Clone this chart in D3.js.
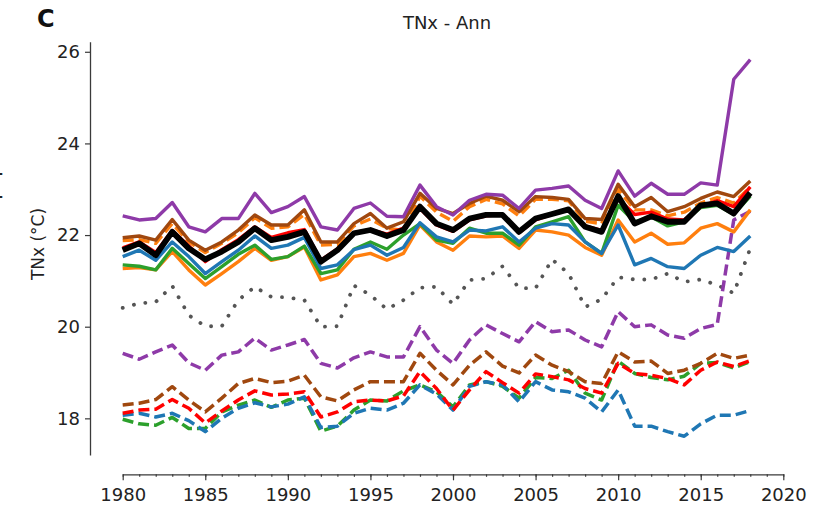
<!DOCTYPE html>
<html>
<head>
<meta charset="utf-8">
<script src="https://cdn.jsdelivr.net/npm/d3@7"></script>
<style>
  html, body { margin: 0; padding: 0; background: #fff; }
  svg { display: block; font-family: "DejaVu Sans", sans-serif; }
</style>
</head>
<body>
<svg id="chart" width="813" height="513"></svg>
<script>
// Annual TNx (warmest night), 1980-2018
const years = [1980, 1981, 1982, 1983, 1984, 1985, 1986, 1987, 1988, 1989,
  1990, 1991, 1992, 1993, 1994, 1995, 1996, 1997, 1998, 1999,
  2000, 2001, 2002, 2003, 2004, 2005, 2006, 2007, 2008, 2009,
  2010, 2011, 2012, 2013, 2014, 2015, 2016, 2017, 2018];

const majorTicks = [1980, 1985, 1990, 1995, 2000, 2005, 2010, 2015, 2020];
const minorTicks = [1980, 1981, 1982, 1983, 1984, 1985, 1986, 1987, 1988, 1989,
  1990, 1991, 1992, 1993, 1994, 1995, 1996, 1997, 1998, 1999,
  2000, 2001, 2002, 2003, 2004, 2005, 2006, 2007, 2008, 2009,
  2010, 2011, 2012, 2013, 2014, 2015, 2016, 2017, 2018, 2019, 2020];
const yTicks = [18, 20, 22, 24, 26];

// solid series
const purpleSolid = [22.42, 22.33, 22.36, 22.71, 22.18, 22.07, 22.36, 22.36, 22.91, 22.49, 22.62, 22.84, 22.18, 22.11, 22.58,
  22.70, 22.41, 22.40, 23.09, 22.62, 22.44, 22.76, 22.89, 22.87, 22.58, 22.98, 23.02, 23.07, 22.76, 22.58,
  23.40, 22.85, 23.13, 22.89, 22.89, 23.14, 23.09, 25.40, 25.83];
const brownSolid = [21.94, 21.98, 21.89, 22.34, 21.89, 21.67, 21.85, 22.11, 22.44, 22.22, 22.22, 22.55, 21.85, 21.85, 22.25,
  22.47, 22.15, 22.29, 22.91, 22.58, 22.47, 22.69, 22.85, 22.76, 22.51, 22.84, 22.82, 22.78, 22.36, 22.34,
  23.11, 22.62, 22.82, 22.51, 22.62, 22.80, 22.94, 22.84, 23.18];
const orangeDashed = [21.88, 21.90, 21.82, 22.25, 21.85, 21.62, 21.82, 22.05, 22.38, 22.15, 22.18, 22.45, 21.78, 21.80, 22.20,
  22.35, 22.15, 22.10, 22.85, 22.50, 22.30, 22.62, 22.78, 22.68, 22.42, 22.78, 22.78, 22.75, 22.30, 22.25,
  23.00, 22.55, 22.55, 22.42, 22.50, 22.70, 22.82, 22.70, 23.05];
const redSolid = [21.72, 21.85, 21.62, 22.10, 21.76, 21.42, 21.68, 21.90, 22.18, 21.95, 22.05, 22.12, 21.45, 21.70, 22.05,
  22.12, 22.02, 22.15, 22.58, 22.22, 22.08, 22.33, 22.42, 22.45, 22.05, 22.33, 22.45, 22.55, 22.20, 22.10,
  22.80, 22.45, 22.50, 22.35, 22.33, 22.62, 22.75, 22.62, 23.05];
const blackSolid = [21.67, 21.82, 21.56, 22.07, 21.71, 21.47, 21.64, 21.85, 22.15, 21.89, 21.96, 22.07, 21.42, 21.67, 22.04,
  22.11, 21.98, 22.11, 22.62, 22.25, 22.11, 22.36, 22.44, 22.44, 22.07, 22.36, 22.46, 22.56, 22.18, 22.07,
  22.85, 22.25, 22.41, 22.29, 22.29, 22.65, 22.69, 22.47, 22.92];
const blueSolid = [21.53, 21.67, 21.45, 21.85, 21.53, 21.16, 21.42, 21.67, 21.98, 21.71, 21.78, 21.95, 21.27, 21.35, 21.68,
  21.78, 21.56, 21.73, 22.27, 21.96, 21.85, 22.11, 22.09, 22.18, 21.85, 22.15, 22.25, 22.22, 21.85, 21.60,
  22.22, 21.35, 21.49, 21.31, 21.27, 21.56, 21.73, 21.64, 21.98];
const greenSolid = [21.35, 21.32, 21.24, 21.71, 21.38, 21.05, 21.31, 21.58, 21.78, 21.47, 21.53, 21.76, 21.16, 21.24, 21.69,
  21.85, 21.69, 22.00, 22.25, 21.89, 21.82, 22.15, 22.04, 22.04, 21.78, 22.18, 22.29, 22.40, 21.85, 21.60,
  22.65, 22.29, 22.40, 22.20, 22.29, 22.60, 22.65, 22.45, 22.85];
const orangeSolid = [21.27, 21.29, 21.24, 21.64, 21.24, 20.91, 21.16, 21.42, 21.71, 21.45, 21.53, 21.74, 21.02, 21.13, 21.53,
  21.60, 21.45, 21.60, 22.22, 21.85, 21.67, 21.98, 21.96, 21.98, 21.71, 22.11, 22.07, 22.00, 21.73, 21.56,
  22.33, 21.85, 22.04, 21.80, 21.83, 22.15, 22.25, 22.07, 22.55];

// dotted series
const grayDotted = [20.41, 20.51, 20.54, 20.89, 20.25, 20.01, 20.01, 20.58, 20.87, 20.65, 20.64, 20.58, 20.00, 20.01, 20.90,
  20.69, 20.38, 20.58, 20.85, 20.87, 20.49, 21.02, 21.05, 21.32, 20.84, 20.84, 21.47, 21.16, 20.43, 20.60,
  21.08, 21.03, 21.03, 21.16, 20.98, 21.03, 20.91, 20.73, 21.71];

// dashed series
const purpleDashed = [19.42, 19.29, 19.45, 19.60, 19.21, 19.05, 19.38, 19.45, 19.75, 19.49, 19.60, 19.72, 19.20, 19.10, 19.32,
  19.45, 19.34, 19.34, 20.00, 19.49, 19.20, 19.71, 20.04, 19.85, 19.67, 20.11, 19.89, 19.93, 19.71, 19.56,
  20.33, 20.00, 20.04, 19.82, 19.75, 19.96, 20.05, 22.33, 22.52];
const brownDashed = [18.29, 18.33, 18.41, 18.69, 18.40, 18.14, 18.44, 18.76, 18.87, 18.78, 18.81, 18.94, 18.47, 18.38, 18.62,
  18.80, 18.80, 18.80, 19.42, 19.05, 18.73, 19.16, 19.45, 19.14, 18.99, 19.38, 19.16, 19.02, 18.80, 18.76,
  19.45, 19.23, 19.25, 18.98, 19.05, 19.20, 19.42, 19.31, 19.38];
const redDashed = [18.11, 18.18, 18.20, 18.41, 18.22, 17.90, 18.16, 18.40, 18.60, 18.51, 18.53, 18.58, 18.03, 18.14, 18.36,
  18.40, 18.38, 18.49, 19.02, 18.65, 18.18, 18.62, 19.02, 18.78, 18.55, 18.97, 18.91, 18.84, 18.65, 18.55,
  19.20, 18.98, 18.94, 18.87, 18.73, 19.05, 19.23, 19.13, 19.26];
const greenDashed = [17.98, 17.88, 17.85, 18.02, 17.78, 17.78, 18.14, 18.29, 18.40, 18.24, 18.40, 18.44, 17.72, 17.83, 18.18,
  18.40, 18.38, 18.60, 18.73, 18.58, 18.25, 18.73, 18.80, 18.70, 18.44, 18.89, 18.87, 19.05, 18.55, 18.40,
  19.25, 18.98, 18.89, 18.84, 18.92, 19.20, 19.22, 19.10, 19.24];
const blueDashed = [18.07, 18.11, 18.03, 18.11, 17.95, 17.71, 18.00, 18.22, 18.34, 18.25, 18.31, 18.47, 17.80, 17.83, 18.11,
  18.22, 18.18, 18.33, 18.73, 18.53, 18.18, 18.70, 18.80, 18.73, 18.36, 18.80, 18.62, 18.58, 18.44, 18.14,
  18.62, 17.83, 17.83, 17.71, 17.61, 17.88, 18.07, 18.07, 18.17];

const svg = d3.select("#chart");

const x = d3.scaleLinear().domain([1980, 2020]).range([122.7, 783.3]);
const y = d3.scaleLinear().domain([17.2, 26.22]).range([455, 41.7]);

const axisColor = "#3a3a3a";

// x axis: yearly minor ticks, labelled ticks every 5 years
const xMinor = svg.append("g").attr("transform", "translate(0,474.3)")
  .call(d3.axisBottom(x).tickValues(minorTicks).tickSize(2.5).tickFormat(""));
xMinor.select(".domain").remove();
const xMajor = svg.append("g").attr("transform", "translate(0,474.3)")
  .call(d3.axisBottom(x).tickValues(majorTicks).tickSize(6).tickSizeOuter(0)
    .tickPadding(8).tickFormat(d3.format("d")));

// y axis
const yAxis = svg.append("g").attr("transform", "translate(90,0)")
  .call(d3.axisLeft(y).tickValues(yTicks).tickSize(5).tickSizeOuter(0).tickPadding(5));

svg.selectAll(".domain").attr("stroke", axisColor).attr("stroke-width", 1.3);
svg.selectAll(".tick line").attr("stroke", axisColor).attr("stroke-width", 1.2);
svg.selectAll(".tick text").attr("fill", "#222").style("font-size", "18px")
  .style("font-family", "DejaVu Sans, sans-serif");

const line = d3.line().x((d, i) => x(years[i])).y(d => y(d));

const series = [
  { v: grayDotted,   c: "#555555", w: 3.8, dash: "0.1 11.5", cap: "round" },
  { v: greenDashed,  c: "#2ca02c", w: 3.5, dash: "11 5" },
  { v: blueDashed,   c: "#1f77b4", w: 3.5, dash: "11 5" },
  { v: redDashed,    c: "#ff0000", w: 3.5, dash: "11 5" },
  { v: brownDashed,  c: "#a0480f", w: 3.5, dash: "11 5" },
  { v: purpleDashed, c: "#8e3aa8", w: 3.5, dash: "11 5" },
  { v: orangeSolid,  c: "#ff7f0e", w: 3.4 },
  { v: greenSolid,   c: "#2ca02c", w: 3.4 },
  { v: blueSolid,    c: "#1f77b4", w: 3.4 },
  { v: orangeDashed, c: "#ff7f0e", w: 3.4, dash: "11 5" },
  { v: brownSolid,   c: "#a0480f", w: 3.4 },
  { v: purpleSolid,  c: "#8e3aa8", w: 3.4 },
  { v: redSolid,     c: "#ff0000", w: 3.4 },
  { v: blackSolid,   c: "#000000", w: 5.8 }
];

svg.append("g").selectAll("path").data(series).join("path")
  .attr("d", s => line(s.v))
  .attr("fill", "none")
  .attr("stroke", s => s.c)
  .attr("stroke-width", s => s.w)
  .attr("stroke-dasharray", s => s.dash || null)
  .attr("stroke-linecap", s => s.cap || "butt")
  .attr("stroke-linejoin", "round");

// titles and labels
svg.append("text").attr("x", 447).attr("y", 29).attr("text-anchor", "middle")
  .style("font-size", "18px").attr("fill", "#222").text("TNx - Ann");
svg.append("text").attr("x", 37).attr("y", 27)
  .style("font-size", "24px").style("font-weight", "bold").attr("fill", "#111").text("C");
svg.append("text").attr("transform", "translate(44,244) rotate(-90)")
  .attr("text-anchor", "middle").style("font-size", "17px").attr("fill", "#222")
  .text("TNx (°C)");
svg.append("text").attr("x", -6).attr("y", 195)
  .style("font-size", "28px").attr("fill", "#222").text("[");
</script>
</body>
</html>
